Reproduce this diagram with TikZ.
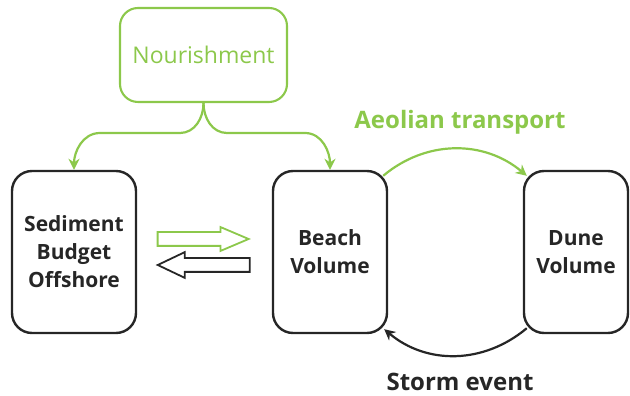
\documentclass[tikz,border=0pt]{standalone}
\usepackage{fontspec}
\setmainfont{Open Sans}
\usetikzlibrary{positioning, arrows.meta, shapes.arrows, calc}
\definecolor{leafgreen}{RGB}{140,200,75}
\definecolor{inkgray}{RGB}{38,38,38}

\begin{document}
\begin{tikzpicture}[x=1pt, y=1pt,
		volbox/.style={draw=inkgray, line width=2.4pt, rounded corners=20pt, align=center,
			minimum height=162pt, text=inkgray, font=\fontsize{21}{28}\selectfont\bfseries},
		feed/.style={draw=leafgreen, line width=2.2pt, -{Stealth[length=11pt, width=11pt]}},
		flux/.style={line width=2.2pt, -{Stealth[length=11pt, width=11pt]}},
		fluxlabel/.style={font=\fontsize{24}{28}\selectfont\bfseries},
		exchange/.style={single arrow, line width=1.8pt, inner xsep=0pt, inner ysep=6pt, single arrow head indent=0pt}]
	\useasboundingbox (0,0) rectangle (630,396);
	
	\node[draw=leafgreen, line width=2.1pt, rounded corners=18pt, minimum width=167pt, minimum height=94pt,
		text=leafgreen, font=\fontsize{23}{28}\selectfont] (nour) at (203.5,341) {Nourishment};
	
	\node[volbox, minimum width=124pt] (offshore) at (74,144) {Sediment\\Budget\\Offshore};
	\node[volbox, minimum width=114pt] (beach) at (330,144) {Beach\\Volume};
	\node[volbox, minimum width=104pt] (dune) at (576,144) {Dune\\Volume};
	
	% nourishment split
	\draw[feed] (nour.south) to[out=-90, in=0] (180,263) -- (100,263) to[out=180, in=90] (offshore.north);
	\draw[feed] (nour.south) to[out=-90, in=180] (227,263) -- (305,263) to[out=0, in=90] (beach.north);
	
	% offshore exchange
	\node[exchange, draw=leafgreen, minimum height=91pt, single arrow head extend=5pt,
		single arrow tip angle=46] (toBeach) at (195,157) {};
	\node[exchange, draw=inkgray, minimum height=92pt, single arrow head extend=6pt,
		single arrow tip angle=51, shape border rotate=180] (toOffshore) at (211,131) {};
	
	% beach - dune
	\coordinate (aeoStart) at ($(beach.north east)+(-5,-6)$);
	\coordinate (aeoEnd) at ($(dune.north west)+(4,-6)$);
	\coordinate (stormStart) at ($(dune.south west)+(4,6)$);
	\coordinate (stormEnd) at ($(beach.south east)+(-4,5)$);
	\draw[flux, draw=leafgreen] (aeoStart) to[out=40, in=140] (aeoEnd);
	\draw[flux, draw=inkgray] (stormStart) to[out=-140, in=-40] (stormEnd);
	
	\node[fluxlabel, text=leafgreen] (aeolian) at (460,274) {Aeolian transport};
	\node[fluxlabel, text=inkgray] (storm) at (460,14) {Storm event};
\end{tikzpicture}
\end{document}
